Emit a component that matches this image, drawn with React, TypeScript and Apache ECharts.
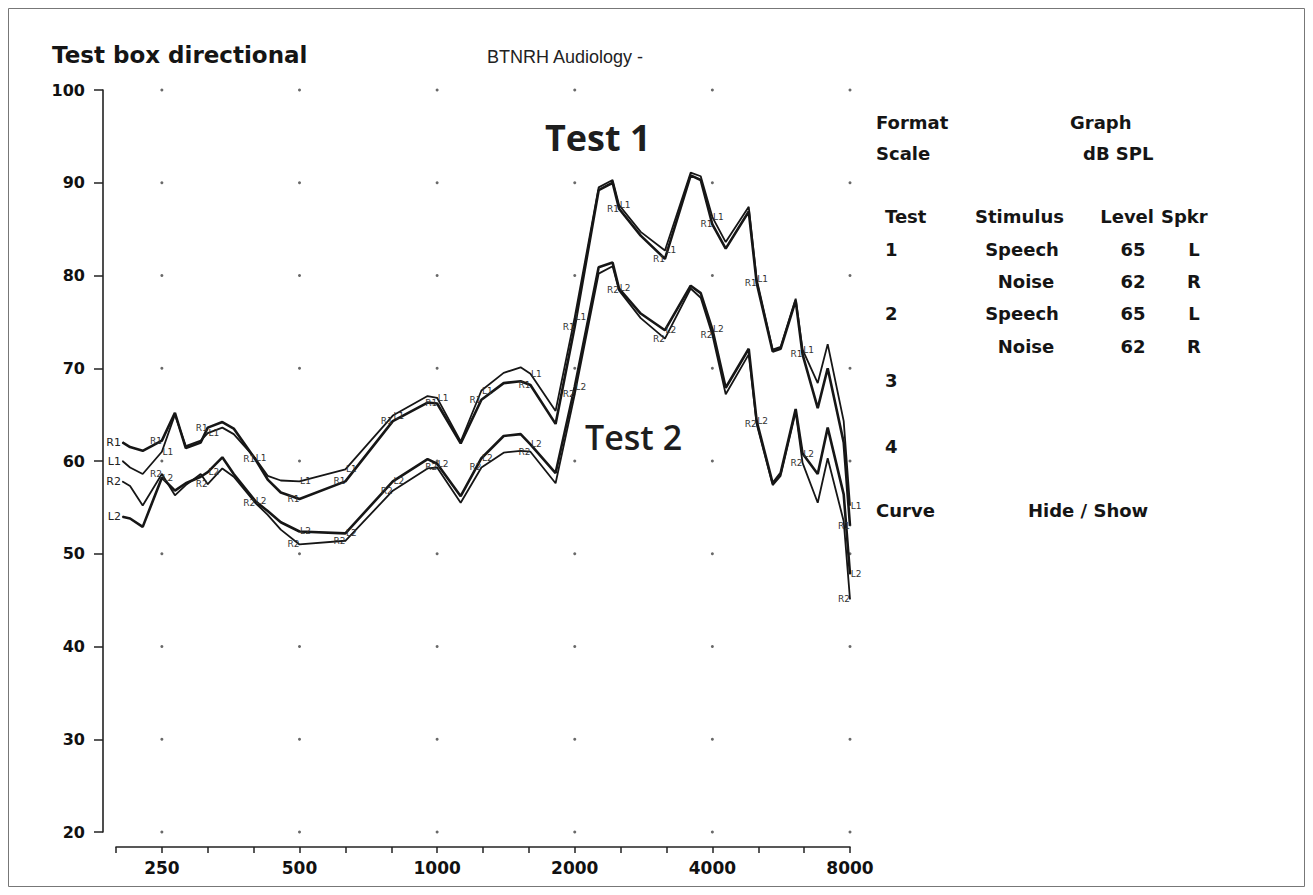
import React, { useEffect, useRef } from 'react';
import * as echarts from 'echarts';

// Frequencies (Hz) of the curve vertices, shared by all four curves
const FREQS = [205, 213, 227, 250, 267, 282, 304, 315, 339, 359, 400, 426, 455, 500, 630, 800, 953, 1000, 1126, 1250, 1398, 1523, 1600, 1816, 2000, 2256, 2420, 2500, 2788, 3150, 3586, 3772, 4000, 4278, 4804, 5000, 5420, 5640, 6085, 6300, 6800, 7150, 7750, 8000];

// Test 1 (Speech L 65 / Noise R 62)
const R1 = [62, 61.5, 61.1, 62.2, 65.2, 61.4, 62, 63.6, 64.2, 63.5, 60.2, 58, 56.6, 55.9, 57.8, 64.3, 66.3, 66.2, 61.9, 66.6, 68.4, 68.6, 68.2, 64, 74.5, 89.2, 90, 87.2, 84.3, 81.8, 90.8, 90.3, 85.5, 82.9, 86.9, 79.2, 71.8, 72.1, 77.3, 71.5, 65.7, 70, 62, 53];
const L1 = [60, 59.3, 58.6, 61, 65, 61.6, 62.2, 63, 63.6, 62.9, 60.3, 58.4, 57.9, 57.8, 59.1, 64.9, 67, 66.8, 62.1, 67.6, 69.5, 70.1, 69.4, 65.4, 75.5, 89.5, 90.3, 87.6, 84.7, 82.7, 91.1, 90.7, 86.3, 83.6, 87.4, 79.6, 72, 72.3, 77.5, 72, 68.4, 72.6, 64.3, 55.2];

// Test 2 (Speech L 65 / Noise R 62)
const R2 = [57.8, 57.3, 55.2, 58.6, 56.3, 57.4, 58.6, 57.5, 59.2, 58.3, 55.5, 54.2, 52.6, 51, 51.4, 56.8, 59.2, 59.3, 55.5, 59.3, 60.9, 61.1, 61, 57.6, 67.2, 80.2, 81, 78.4, 75.4, 73.2, 78.6, 77.6, 73.6, 67.2, 71.5, 64, 57.4, 58.4, 65.3, 59.8, 55.5, 60.3, 53.5, 45.1];
const L2 = [54, 53.8, 52.9, 58.2, 56.8, 57.6, 58.3, 58.8, 60.4, 58.6, 55.7, 54.6, 53.4, 52.4, 52.2, 57.8, 60.2, 59.7, 56.2, 60.3, 62.7, 62.9, 61.8, 58.7, 68, 80.9, 81.4, 78.6, 75.9, 74.1, 78.9, 78.1, 74.2, 67.9, 72.1, 64.3, 57.6, 58.7, 65.6, 60.8, 58.6, 63.6, 56.4, 47.8];

// Axis ticks
const X_TICKS = ['200', '250', '315', '400', '500', '630', '800', '1000', '1250', '1600', '2000', '2500', '3150', '4000', '5000', '6300', '8000'];
const X_LABELS = ['250', '500', '1000', '2000', '4000', '8000'];
const DOT_FREQS = [250, 500, 1000, 2000, 4000, 8000];
const Y_LEVELS = [20, 30, 40, 50, 60, 70, 80, 90, 100];
const MARK_FREQS = [250, 315, 400, 500, 630, 800, 1000, 1250, 1600, 2000, 2500, 3150, 4000, 5000, 6300, 8000];

// Right-hand panel
const PANEL_ROWS = [
  { test: '1', stim: 'Speech', level: '65', spk: 'L' },
  { test: '', stim: 'Noise', level: '62', spk: 'R' },
  { test: '2', stim: 'Speech', level: '65', spk: 'L' },
  { test: '', stim: 'Noise', level: '62', spk: 'R' },
];

const INK = '#161616';
const PANEL_FONT = 'bold 18px "DejaVu Sans"';

function curve(name: string, values: number[], width: number, dx: number) {
  return {
    type: 'line',
    name,
    color: INK,
    xAxisIndex: 0,
    yAxisIndex: 0,
    symbol: 'none',
    showSymbol: true,
    showAllSymbol: true,
    lineStyle: { color: INK, width },
    itemStyle: { color: INK },
    z: 3,
    data: FREQS.map((f, i) => {
      const item: any = { value: [f, values[i]] };
      if (i === 0) {
        item.symbol = 'circle';
        item.symbolSize = 1;
        item.label = {
          show: true, position: 'left', distance: 1, formatter: name,
          fontSize: 11, fontFamily: 'DejaVu Sans', color: '#222',
          textBorderWidth: 0, textBorderColor: 'transparent',
        };
      } else if (MARK_FREQS.includes(f)) {
        item.symbol = 'circle';
        item.symbolSize = 1;
        item.label = {
          show: true, position: 'inside', formatter: name, offset: [dx, 0],
          fontSize: 9, fontFamily: 'DejaVu Sans', color: '#333',
          textBorderWidth: 0, textBorderColor: 'transparent',
        };
      }
      return item;
    }),
  };
}

function txt(text: string, x: number, y: number, font: string, align: string = 'left', fill: string = '#151515') {
  return {
    type: 'text',
    x, y,
    style: { text, font, fill, align, verticalAlign: 'middle', textAlign: align, textVerticalAlign: 'middle' },
  };
}

export default function App() {
  const ref = useRef<HTMLDivElement>(null);

  useEffect(() => {
    if (!ref.current) return;
    const chart = echarts.init(ref.current, null, { renderer: 'svg' });

    const panel: any[] = [
      txt('Format', 868, 114, PANEL_FONT),
      txt('Graph', 1062, 114, PANEL_FONT),
      txt('Scale', 868, 145, PANEL_FONT),
      txt('dB SPL', 1075, 145, PANEL_FONT),
      txt('Test', 877, 208, PANEL_FONT),
      txt('Stimulus', 967, 208, PANEL_FONT),
      txt('Level', 1146, 208, PANEL_FONT, 'right'),
      txt('Spkr', 1153, 208, PANEL_FONT),
      txt('3', 877, 372, PANEL_FONT),
      txt('4', 877, 438, PANEL_FONT),
      txt('Curve', 868, 502, PANEL_FONT),
      txt('Hide / Show', 1020, 502, PANEL_FONT),
    ];
    const rowY = [241, 273, 305, 338];
    PANEL_ROWS.forEach((r, i) => {
      if (r.test) panel.push(txt(r.test, 877, rowY[i], PANEL_FONT));
      panel.push(txt(r.stim, r.stim === 'Noise' ? 1018 : 1014, rowY[i], PANEL_FONT, 'center'));
      panel.push(txt(r.level, 1125, rowY[i], PANEL_FONT, 'center'));
      panel.push(txt(r.spk, 1186, rowY[i], PANEL_FONT, 'center'));
    });

    const option: any = {
      animation: false,
      backgroundColor: '#ffffff',
      color: [INK],
      grid: { left: 108, right: 455, top: 82, bottom: 55, containLabel: false },
      xAxis: [
        { type: 'log', logBase: 2, min: 198.43, max: 8000, show: false, position: 'bottom', gridIndex: 0 },
        {
          type: 'category', data: X_TICKS, boundaryGap: false, position: 'bottom', offset: 15, gridIndex: 0,
          axisLine: { show: true, lineStyle: { color: '#222', width: 1.6 } },
          axisTick: { show: true, length: 6, interval: 0, lineStyle: { color: '#222', width: 1.5 } },
          axisLabel: {
            interval: (_i: number, v: string) => X_LABELS.includes(v),
            margin: 12, fontFamily: 'DejaVu Sans', fontWeight: 'bold', fontSize: 17, color: '#111',
          },
          splitLine: { show: false },
        },
      ],
      yAxis: {
        type: 'value', min: 20, max: 100, interval: 10, position: 'left', offset: 13,
        axisLine: { show: true, lineStyle: { color: '#222', width: 1.6 } },
        axisTick: { show: true, length: 9, lineStyle: { color: '#222', width: 1.5 } },
        axisLabel: { margin: 18, fontFamily: 'DejaVu Sans', fontWeight: 'bold', fontSize: 16, color: '#111' },
        splitLine: { show: false },
      },
      series: [
        {
          type: 'scatter', xAxisIndex: 0, yAxisIndex: 0, silent: true, z: 1,
          symbolSize: 3, itemStyle: { color: '#444' },
          data: DOT_FREQS.flatMap((f) => Y_LEVELS.map((v) => [f, v])),
        },
        curve('R1', R1, 2.6, -6),
        curve('L1', L1, 1.8, 6),
        curve('R2', R2, 1.8, -6),
        curve('L2', L2, 2.6, 6),
      ],
      graphic: [
        { type: 'rect', shape: { x: 0.5, y: 0.5, width: 1296, height: 878 }, style: { fill: 'none', stroke: '#777', lineWidth: 1 }, silent: true },
        txt('Test box directional', 44, 47, 'bold 23px "DejaVu Sans"'),
        txt('BTNRH Audiology -', 479, 49, '18px "Liberation Sans"', 'left', '#222'),
        txt('Test 1', 537, 129, 'bold 36px "Open Sans"', 'left', '#1e1e1e'),
        txt('Test 2', 577, 429, '600 34px "Open Sans"', 'left', '#1e1e1e'),
        ...panel,
      ],
    };

    chart.setOption(option);
    return () => chart.dispose();
  }, []);

  return <div ref={ref} style={{ width: 1297, height: 879 }} />;
}
